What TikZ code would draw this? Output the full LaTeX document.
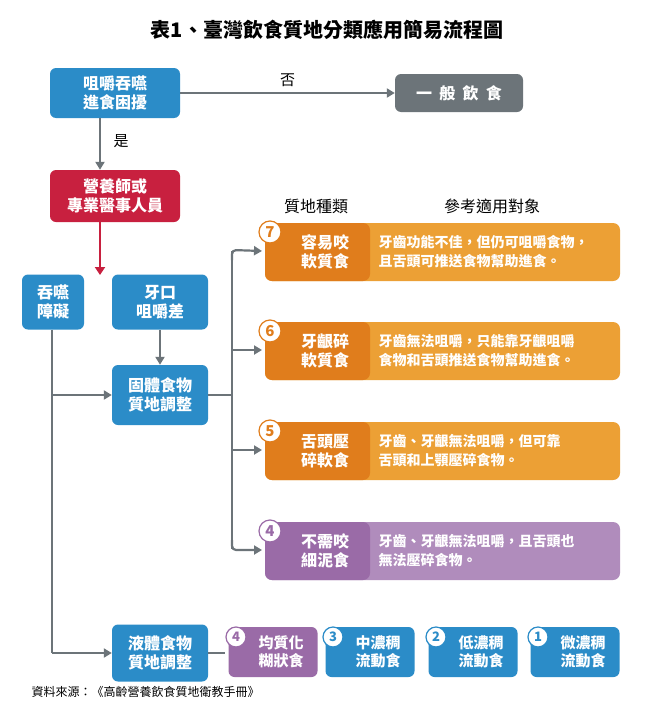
\documentclass[tikz,border=0pt]{standalone}
\usepackage{fontspec}
\setmainfont{Noto Sans CJK TC}
\usetikzlibrary{arrows.meta}
\definecolor{cblue}{HTML}{2B8CC8}
\definecolor{cgrey}{HTML}{6C7479}
\definecolor{cred}{HTML}{C8203F}
\definecolor{corL}{HTML}{ECA035}
\definecolor{corD}{HTML}{E07D1C}
\definecolor{cpuL}{HTML}{B08CBC}
\definecolor{cpuD}{HTML}{9A6BA7}
\begin{document}
\begin{tikzpicture}[x=1pt,y=-1pt,
  box/.style={rounded corners=6pt,text=white,font=\bfseries\fontsize{16}{19}\selectfont,align=center,inner sep=0pt},
  arr/.style={cgrey,line width=2.2pt,-{Triangle[length=8pt,width=9pt]}},
  ln/.style={cgrey,line width=2.2pt},
  desc/.style={text=white,font=\bfseries\fontsize{14}{19}\selectfont,align=left,anchor=west},
  num/.style={circle,fill=white,draw,line width=1.2pt,minimum size=22pt,inner sep=0pt,font=\bfseries\fontsize{15}{15}\selectfont}]
\useasboundingbox (0,0) rectangle (655,712);
\fill[white] (0,0) rectangle (655,712);
\node (title) at (327,30) {\fontsize{20}{22}\selectfont\bfseries 表1、臺灣飲食質地分類應用簡易流程圖};
\node[box,fill=cblue,minimum width=130pt,minimum height=50pt] (A) at (115,93) {咀嚼吞嚥\\進食困擾};
\node[box,fill=cgrey,minimum width=128pt,minimum height=38pt] (B) at (459,93) {一\ \ 般\ \ 飲\ \ 食};
\node[box,fill=cred,minimum width=130pt,minimum height=52pt] (C) at (115,196) {營養師或\\專業醫事人員};
\node[box,fill=cblue,minimum width=62pt,minimum height=55pt] (D) at (53,302) {吞嚥\\障礙};
\node[box,fill=cblue,minimum width=96pt,minimum height=55pt] (E) at (160,302) {牙口\\咀嚼差};
\node[box,fill=cblue,minimum width=96pt,minimum height=60pt] (F) at (160,395) {固體食物\\質地調整};
\node[box,fill=cblue,minimum width=96pt,minimum height=57pt] (G) at (160,653) {液體食物\\質地調整};
\draw[arr] (A) -- (B) node[midway,above=2pt,text=black,font=\fontsize{15}{15}\selectfont] {否};
\draw[arr] (A.south -| 100,0) -- (C.north -| 100,0);
\node[font=\fontsize{15}{15}\selectfont] (yes) at (121,141) {是};
\draw[cred,line width=2.4pt,-{Triangle[length=8pt,width=10pt]}] (C.south -| 100,0) -- (100,275);
\draw[arr] (E) -- (F);
\coordinate (d1) at (52,395);
\coordinate (d2) at (52,653);
\draw[ln] (D.south -| 52,0) -- (d2);
\draw[arr] (d1) -- (F.west);
\draw[arr] (d2) -- (G.west);
\node[font=\fontsize{16}{16}\selectfont] (h1) at (316,206) {質地種類};
\node[font=\fontsize{16}{16}\selectfont] (h2) at (492,206) {參考適用對象};
\def\tbox#1#2#3#4#5#6#7{%
  \fill[#2,rounded corners=7pt] (265,#1) rectangle (620,#1+58);
  \fill[#3,rounded corners=7pt] (265,#1) rectangle (370,#1+58);
  \node[box,anchor=center] (#4) at (325,#1+29) {#5};
  \node[desc] (#4d) at (375,#1+29) {#6};
  \node[num,text=#3,draw=#3] (#4n) at (270,#1+9) {#7};
  \coordinate (#4a) at (262,#1+28);
}
\tbox{223}{corL}{corD}{s7}{容易咬\\軟質食}{牙齒功能不佳，但仍可咀嚼食物，\\且舌頭可推送食物幫助進食。}{7}
\tbox{322}{corL}{corD}{s6}{牙齦碎\\軟質食}{牙齒無法咀嚼，只能靠牙齦咀嚼\\食物和舌頭推送食物幫助進食。}{6}
\tbox{422}{corL}{corD}{s5}{舌頭壓\\碎軟食}{牙齒、牙齦無法咀嚼，但可靠\\舌頭和上顎壓碎食物。}{5}
\tbox{522}{cpuL}{cpuD}{s4}{不需咬\\細泥食}{牙齒、牙齦無法咀嚼，且舌頭也\\無法壓碎食物。}{4}
\draw[ln] (F.east) -- (232,395);
\draw[ln] (232,251) -- (232,549);
\draw[arr,rounded corners=4pt] (232,260) -- (232,250) -- (s7a);
\draw[arr] (232,350) -- (s6a);
\draw[arr] (232,450) -- (s5a);
\draw[arr,rounded corners=4pt] (232,540) -- (232,550) -- (s4a);
\def\bbox#1#2#3#4#5{%
  \node[box,fill=#2,minimum width=89pt,minimum height=50pt,font=\bfseries\fontsize{15}{18}\selectfont] (#3) at (#1,652) {\hspace*{16pt}#4};
  \node[num,text=#2,draw=#2,minimum size=20pt,font=\bfseries\fontsize{13}{13}\selectfont] (#3n) at (#1-37,637) {#5};
}
\bbox{273}{cpuD}{L4}{均質化\\\hspace*{16pt}糊狀食}{4}
\bbox{370}{cblue}{L3}{中濃稠\\\hspace*{16pt}流動食}{3}
\bbox{473}{cblue}{L2}{低濃稠\\\hspace*{16pt}流動食}{2}
\bbox{575}{cblue}{L1}{微濃稠\\\hspace*{16pt}流動食}{1}
\draw[ln] (G.east) -- (L4n.west |- G.east);
\node[anchor=west,font=\fontsize{12}{12}\selectfont] (src) at (28,692) {資料來源：《高齡營養飲食質地衛教手冊》};
\end{tikzpicture}
\end{document}
